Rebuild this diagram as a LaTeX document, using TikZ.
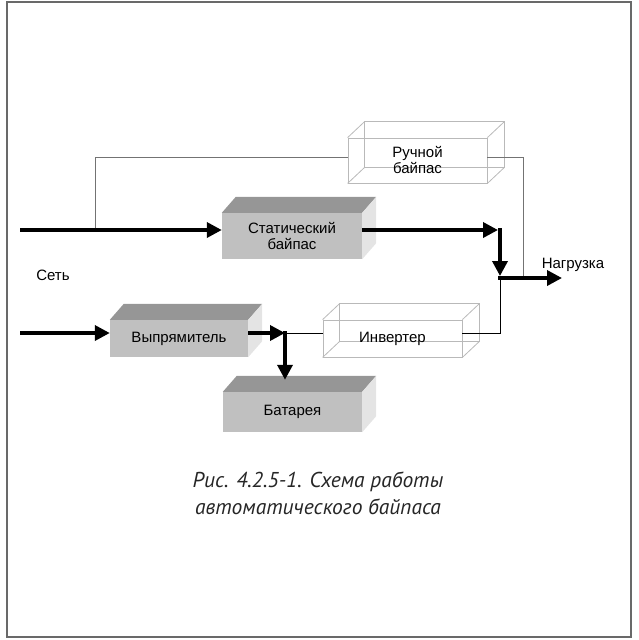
\documentclass[tikz,border=0pt]{standalone}
\usepackage{fontspec}
\setmainfont{Liberation Sans}
\newfontfamily\capfont{PT Sans}
\usetikzlibrary{arrows.meta,backgrounds}

\definecolor{boxfront}{RGB}{192,192,192}
\definecolor{boxtop}{RGB}{150,150,150}
\definecolor{boxside}{RGB}{228,228,228}
\definecolor{wireclr}{RGB}{185,185,185}
\definecolor{framegray}{RGB}{105,105,105}

\tikzset{
  solidbox/.style={fill=boxfront, inner sep=0pt, align=center, text=black,
    font=\fontsize{15}{16}\selectfont},
  wirebox/.style={draw=wireclr, line width=0.8pt, inner sep=0pt, align=center, text=black,
    font=\fontsize{15}{16}\selectfont},
  power/.style={line width=3.5pt, -{Triangle[length=15pt,width=15pt]}},
  feed/.style={line width=1pt, draw=black!55},
  tag/.style={text=black, font=\fontsize{15}{16}\selectfont}
}

\begin{document}
\begin{tikzpicture}[x=1pt,y=-1pt]

    \useasboundingbox (0,0) rectangle (638,640);
    \draw[framegray, line width=2pt] (7,2) rectangle (631,637);

    % blocks
    \node[solidbox, minimum width=140pt, minimum height=46pt] (static) at (292,236) {Статический\\байпас};
    \node[solidbox, minimum width=138pt, minimum height=37pt] (rect) at (179,338.5) {Выпрямитель};
    \node[solidbox, minimum width=139pt, minimum height=40pt] (batt) at (292.5,412) {Батарея};
    \node[wirebox, minimum width=139pt, minimum height=45pt] (manual) at (417.5,160.5) {Ручной\\байпас};
    \node[wirebox, minimum width=139pt, minimum height=37pt] (inv) at (392.5,338.5) {Инвертер};

    \foreach \b in {static,rect,batt} {
        \fill[boxtop] (\b.north west) -- ++(14,-16) -- ([shift={(14,-16)}]\b.north east) -- (\b.north east) -- cycle;
        \fill[boxside] (\b.north east) -- ++(14,-16) -- ([shift={(14,-16)}]\b.south east) -- (\b.south east) -- cycle;
    }
    \begin{scope}[on background layer]
    \foreach \b in {manual,inv} {
        \draw[wireclr, line width=0.8pt] ([shift={(17,-16)}]\b.south west) rectangle ([shift={(17,-16)}]\b.north east);
        \foreach \c in {north west,north east,south west,south east}
            \draw[wireclr, line width=0.8pt] (\b.\c) -- ++(17,-16);
    }
    \end{scope}

    % labels
    \node[tag] (mains) at (53,275) {Сеть};
    \node[tag] (loadlbl) at (573,265) {Нагрузка};

    % junctions
    \coordinate (mainsIn) at (20,230);
    \coordinate (tap) at (95,230);
    \coordinate (manY) at (0,157);
    \coordinate (jTop) at (500,230);
    \coordinate (bus) at (500,278);
    \coordinate (manDrop) at (523,278);
    \coordinate (load) at (562,278);
    \coordinate (dcIn) at (20,333);
    \coordinate (dcJ) at (285,333);

    % thin lines
    \draw[feed] (tap) |- (manual.west |- manY);
    \draw[feed] (manual.east |- manY) -| (manDrop);
    \draw[line width=1pt] (dcJ) -- (dcJ -| inv.west);
    \draw[line width=1pt] (inv.east |- dcJ) -| (bus);

    % power lines
    \draw[power] (mainsIn) -- (mainsIn -| static.west);
    \draw[power] (static.east |- mainsIn) -- ([xshift=-2pt]jTop);
    \draw[power] ([yshift=1.75pt]jTop) -- ([yshift=2pt]bus);
    \draw[power] ([xshift=-1.75pt]bus) -- (load);
    \draw[power] (dcIn) -- (dcIn -| rect.west);
    \draw[power] (rect.east |- dcJ) -- (dcJ);
    \draw[power] ([yshift=1.75pt]dcJ) -- ([yshift=12pt]batt.north -| dcJ);

    \node[font=\capfont\itshape\fontsize{21.5}{27}\selectfont, align=center, text=black!85] (cap) at (318,493)
        {Рис. 4.2.5-1. Схема работы\\автоматического байпаса};

\end{tikzpicture}
\end{document}
